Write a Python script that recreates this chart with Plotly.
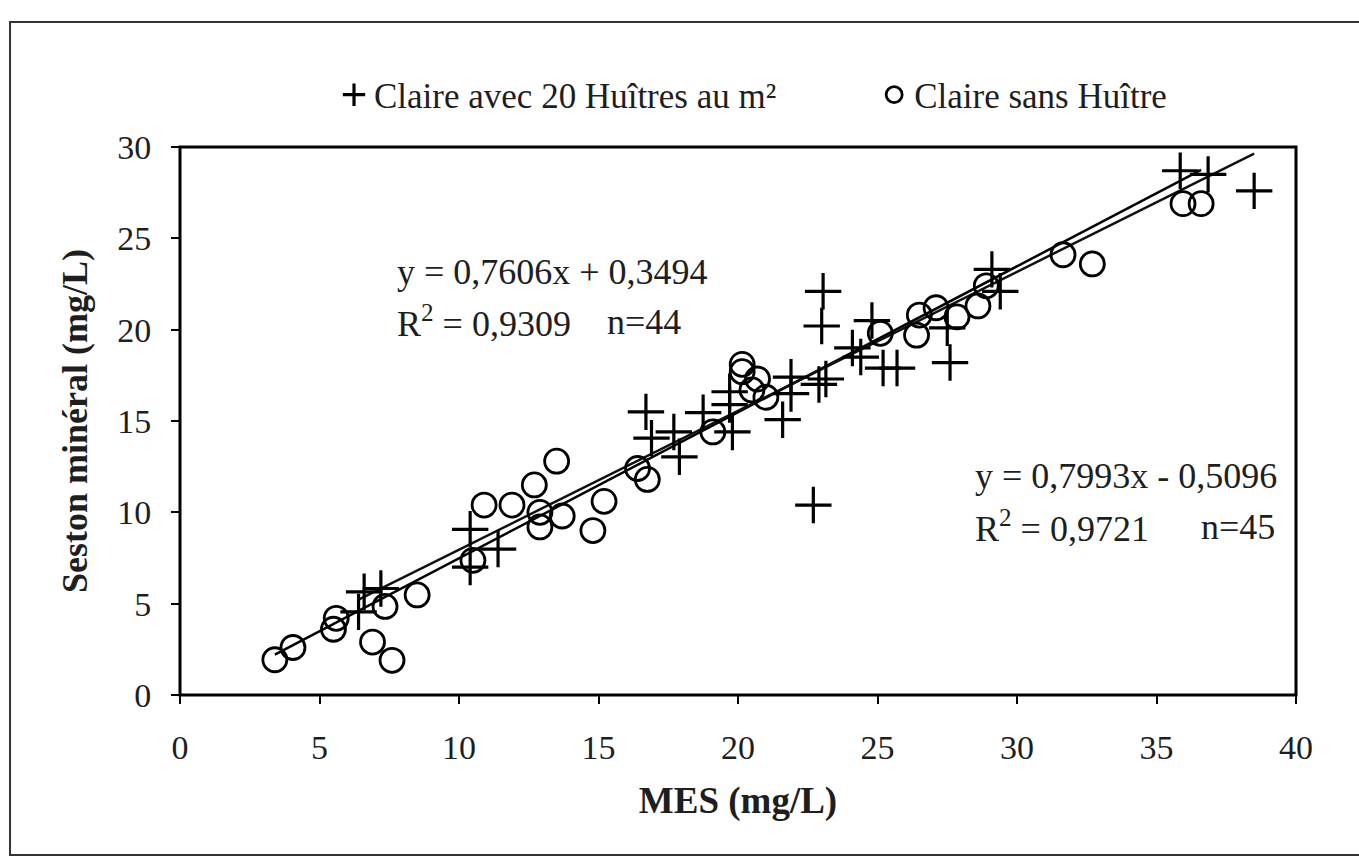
import plotly.graph_objects as go

# --- data: Claire avec 20 Huîtres au m² (crosses)
x_huitres = [6.4, 6.6, 7.2, 10.4, 10.4, 11.4, 16.7, 16.9, 17.7, 17.9, 18.75, 19.7, 19.7,
             19.8, 21.6, 21.9, 21.9, 22.7, 22.9, 23.0, 23.05, 23.15, 24.1, 24.4, 24.8,
             25.2, 25.7, 27.5, 27.6, 29.1, 29.4, 35.85, 36.85, 38.5]
y_huitres = [4.55, 5.65, 5.83, 9.07, 7.0, 7.99, 15.5, 14.06, 14.4, 13.04, 15.46, 15.9, 16.6,
             14.4, 15.07, 17.4, 16.5, 10.4, 17.0, 20.2, 22.1, 17.3, 19.0, 18.5, 20.5,
             17.9, 17.9, 20.1, 18.2, 23.3, 22.1, 28.7, 28.5, 27.6]

# --- data: Claire sans Huître (circles)
x_sans = [3.4, 4.05, 5.5, 5.6, 6.9, 7.6, 7.35, 8.5, 10.9, 10.5, 13.5, 12.7, 11.9, 12.9,
          12.9, 13.7, 15.2, 14.8, 16.4, 16.75, 19.1, 20.15, 20.15, 20.7, 20.5, 21.0,
          25.1, 26.5, 27.1, 26.4, 27.85, 28.6, 28.9, 31.65, 32.7, 35.95, 36.6]
y_sans = [1.93, 2.6, 3.6, 4.2, 2.9, 1.9, 4.85, 5.48, 10.4, 7.37, 12.8, 11.5, 10.4, 10.0,
          9.2, 9.8, 10.6, 9.0, 12.4, 11.8, 14.4, 18.1, 17.7, 17.3, 16.7, 16.3,
          19.8, 20.8, 21.2, 19.7, 20.7, 21.3, 22.4, 24.1, 23.6, 26.9, 26.9]

series_names = ["Claire avec 20 Huîtres au m²", "Claire sans Huître"]

# regression coefficients (as printed)
slope_h, inter_h = 0.7606, 0.3494
slope_s, inter_s = 0.7993, -0.5096

x_ticks = [0, 5, 10, 15, 20, 25, 30, 35, 40]
y_ticks = [0, 5, 10, 15, 20, 25, 30]

FONT = "Liberation Serif"
TXT = "#1e1e1e"


def serif(s):
    return "<span style='font-family:Liberation Serif'>" + s + "</span>"


fig = go.Figure()

xs_line = [min(x_sans), max(x_sans)]
fig.add_trace(go.Scatter(x=xs_line, y=[slope_s * v + inter_s for v in xs_line],
                         mode="lines", line=dict(color="black", width=2.5),
                         showlegend=False, hoverinfo="skip"))
xh_line = [min(x_huitres), max(x_huitres)]
fig.add_trace(go.Scatter(x=xh_line, y=[slope_h * v + inter_h for v in xh_line],
                         mode="lines", line=dict(color="#111111", width=2.5),
                         showlegend=False, hoverinfo="skip"))

fig.add_trace(go.Scatter(x=x_huitres, y=y_huitres, mode="markers",
                         name=serif(series_names[0]), legend="legend",
                         marker=dict(symbol="cross-thin", size=26,
                                     line=dict(color="black", width=3.2), color="black")))
fig.add_trace(go.Scatter(x=x_sans, y=y_sans, mode="markers",
                         name=serif(series_names[1]), legend="legend2",
                         marker=dict(symbol="circle-open", size=24,
                                     line=dict(color="black", width=2.8), color="black")))

ann_font = dict(family=FONT, size=36, color=TXT)
annotations = [
    dict(x=0.1927, y=0.772, xref="paper", yref="paper", text="y = 0,7606x + 0,3494",
         showarrow=False, xanchor="left", yanchor="middle", font=ann_font),
    dict(x=0.1927, y=0.681, xref="paper", yref="paper", text="R<sup>2</sup> = 0,9309",
         showarrow=False, xanchor="left", yanchor="middle", font=ann_font),
    dict(x=0.3808, y=0.681, xref="paper", yref="paper", text="n=44",
         showarrow=False, xanchor="left", yanchor="middle", font=ann_font),
    dict(x=0.7106, y=0.3996, xref="paper", yref="paper", text="y = 0,7993x - 0,5096",
         showarrow=False, xanchor="left", yanchor="middle", font=ann_font),
    dict(x=0.7106, y=0.3066, xref="paper", yref="paper", text="R<sup>2</sup> = 0,9721",
         showarrow=False, xanchor="left", yanchor="middle", font=ann_font),
    dict(x=0.983, y=0.3066, xref="paper", yref="paper", text="n=45",
         showarrow=False, xanchor="right", yanchor="middle", font=ann_font),
]

shapes = [
    dict(type="rect", xref="paper", yref="paper", x0=-0.1523, x1=1.06, y0=-0.292, y1=1.228,
         line=dict(color="#333333", width=2), layer="below"),
    dict(type="rect", xref="paper", yref="paper", x0=0, x1=1, y0=0, y1=1,
         line=dict(color="black", width=3)),
]

leg_common = dict(orientation="h", yanchor="middle", xanchor="left",
                  font=dict(family=FONT, size=35, color=TXT),
                  itemwidth=30, bgcolor="rgba(0,0,0,0)", borderwidth=0)

fig.update_layout(
    width=1359, height=862,
    margin=dict(l=180, r=63, t=147, b=167),
    paper_bgcolor="white", plot_bgcolor="white",
    font=dict(family=FONT, size=34, color=TXT),
    showlegend=True,
    legend=dict(x=0.138, y=1.095, **leg_common),
    legend2=dict(x=0.622, y=1.095, **leg_common),
    annotations=annotations,
    shapes=shapes,
    xaxis=dict(range=[0, 40], tickvals=x_ticks, ticks="outside", ticklen=8, tickwidth=1.5,
               tickcolor="black", showgrid=False, zeroline=False, showline=False,
               ticklabelstandoff=14, tickfont=dict(family=FONT, size=34, color=TXT),
               title=dict(text="<b>MES (mg/L)</b>", font=dict(family=FONT, size=37, color=TXT),
                          standoff=22)),
    yaxis=dict(range=[0, 30], tickvals=y_ticks, ticks="outside", ticklen=8, tickwidth=1.5,
               tickcolor="black", showgrid=False, zeroline=False, showline=False,
               ticklabelstandoff=13, tickfont=dict(family=FONT, size=34, color=TXT),
               title=dict(text="<b>Seston minéral (mg/L)</b>",
                          font=dict(family=FONT, size=36, color=TXT), standoff=18)),
)

fig.write_html("out.html")
